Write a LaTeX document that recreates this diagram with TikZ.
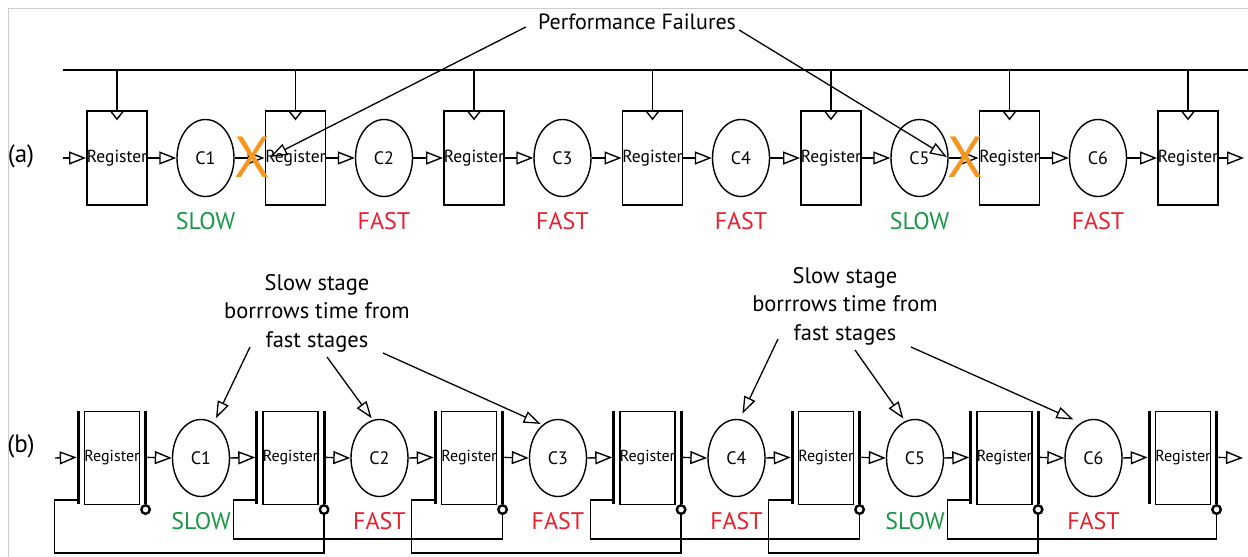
\documentclass[tikz,border=0pt]{standalone}
\usepackage{fontspec}
\setmainfont{PT Sans}
\usetikzlibrary{arrows.meta,shapes.geometric}

\definecolor{slowgreen}{RGB}{25,150,70}
\definecolor{fastred}{RGB}{232,32,45}
\definecolor{failorange}{RGB}{246,150,30}

\begin{document}
\begin{tikzpicture}[x=1pt,y=-1pt,
reg/.style = {draw,line width=1.6pt,inner sep=0pt,
        minimum width=60pt,minimum height=94pt,
        font=\fontsize{17.5}{20}\selectfont},
regb/.style = {reg,minimum width=54pt,minimum height=93pt,
        font=\fontsize{16}{18}\selectfont},
comb/.style = {draw,ellipse,line width=1.4pt,inner sep=0pt,
        minimum width=57pt,minimum height=77pt,
        font=\fontsize{18}{20}\selectfont},
flow/.style = {line width=1.4pt,
        -{Triangle[open,length=17pt,width=13pt,line width=1.4pt]}},
pointer/.style = {line width=1.3pt,
        -{Triangle[open,length=17pt,width=12pt,line width=1.3pt]}},
wire/.style = {line width=1.4pt},
latch/.style = {fill=black,inner sep=0pt,minimum width=3pt,minimum height=93pt},
bubble/.style = {circle,draw,line width=2.4pt,fill=white,inner sep=0pt,minimum size=8.5pt},
speed/.style = {font=\fontsize{24}{26}\selectfont},
note/.style = {font=\fontsize{22.5}{28.5}\selectfont,align=center,inner sep=0pt},
failx/.style = {text=failorange,font=\fontsize{58}{58}\selectfont,inner sep=0pt},
tag/.style = {font=\fontsize{25}{27}\selectfont}]

        \useasboundingbox (0,0) rectangle (1248,557);
        \draw[black!20] (8,557) -- (8,8) -- (1248,8);

        % (a) flip-flops on one clock
        \node[tag] (taga) at (21,156) {(a)};
        \coordinate (busL) at (63,70);
        \coordinate (busR) at (1248,70);
        \coordinate (ina) at (63,158);
        \coordinate (outa) at (1244,158);
        \coordinate (lvla) at (0,221);
        \draw[line width=1.6pt] (busL) -- (busR);

        \foreach \k in {0,...,6} {
            \node[reg] (ra\k) at (117+178.5*\k,158) {Register};
            \draw[line width=1.6pt] (ra\k.north) -- (ra\k.north |- busL);
            \draw[line width=1.4pt] ([xshift=-7pt]ra\k.north) -- ++(7,9) -- ++(7,-9);
        }

        \draw[flow] (ina) -- (ra0.west);
        \foreach \k/\s/\c [remember=\k as \p (initially 0)] in
            {1/SLOW/slowgreen,2/FAST/fastred,3/FAST/fastred,
             4/FAST/fastred,5/SLOW/slowgreen,6/FAST/fastred} {
            \node[comb] (ca\k) at (205.5+178.5*\k-178.5,158) {C\k};
            \node[speed,text=\c] (sa\k) at (ca\k |- lvla) {\s};
            \draw[flow] (ra\p.east) -- (ca\k.west);
            \draw[flow] (ca\k.east) -- (ra\k.west);
        }
        \draw[flow] (ra6.east) -- (outa);

        \node[failx] (xa1) at (252,157) {X};
        \node[failx] (xa5) at (965,157) {X};
        \node[font=\fontsize{22}{24}\selectfont,inner sep=0pt] (pf) at (637,22) {Performance Failures};
        \draw[pointer] ([xshift=-12pt,yshift=-5pt]pf.west) -- (xa1.east);
        \draw[pointer] ([xshift=3pt,yshift=-8pt]pf.east) -- (xa5.west);

        % (b) latches with borrowed time
        \node[tag] (tagb) at (21,446) {(b)};
        \coordinate (inb) at (55,458);
        \coordinate (outb) at (1243,458);
        \coordinate (lvlb) at (0,521);

        \foreach \k in {0,...,6} {
            \node[regb] (rb\k) at (112+178.5*\k,458) {Register};
            \node[latch,anchor=north east] (lbar\k) at ([xshift=-3.5pt]rb\k.north west) {};
            \node[latch,anchor=north west] (rbar\k) at ([xshift=3.5pt]rb\k.north east) {};
            \node[bubble,anchor=north] (bub\k) at (rbar\k.south) {};
        }

        \draw[flow] (inb) -- (lbar0.west);
        \foreach \k/\s/\c/\lv [remember=\k as \p (initially 0)] in
            {1/SLOW/slowgreen/553,2/FAST/fastred/539,3/FAST/fastred/553,
             4/FAST/fastred/539,5/SLOW/slowgreen/553,6/FAST/fastred/539} {
            \node[comb] (cb\k) at (201+178.5*\k-178.5,458) {C\k};
            \node[speed,text=\c] (sb\k) at (cb\k |- lvlb) {\s};
            \draw[flow] (rbar\p.east) -- (cb\k.west);
            \draw[flow] (cb\k.east) -- (lbar\k.west);
            % feedback from the bubble back to the previous latch
            \coordinate (tap\k) at ([xshift=-22pt,yshift=4pt]lbar\p.south west);
            \coordinate (low\k) at (0,\lv);
            \draw[wire] (bub\k.south) |- (tap\k |- low\k) -- (tap\k) -- (tap\k -| lbar\p.west);
        }
        \draw[flow] (rbar6.east) -- (outb);

        \node[note] (nt1) at (317,313) {Slow stage\\borrrows time from\\fast stages};
        \node[note] (nt2) at (845,306) {Slow stage\\borrrows time from\\fast stages};
        \draw[pointer,shorten >=5pt] ([xshift=-67pt,yshift=-34pt]nt1.center) -- (cb1.70);
        \draw[pointer,shorten >=2pt] ([xshift=10pt,yshift=-44pt]nt1.center) -- (cb2.100);
        \draw[pointer,shorten >=2pt] ([xshift=66pt,yshift=-40pt]nt1.center) -- (cb3.115);
        \draw[pointer,shorten >=6pt] ([xshift=-67pt,yshift=-33pt]nt2.center) -- (cb4.85);
        \draw[pointer,shorten >=3pt] ([xshift=10pt,yshift=-44pt]nt2.center) -- (cb5.105);
        \draw[pointer,shorten >=8pt] ([xshift=66pt,yshift=-41pt]nt2.center) -- (cb6.110);

\end{tikzpicture}
\end{document}
